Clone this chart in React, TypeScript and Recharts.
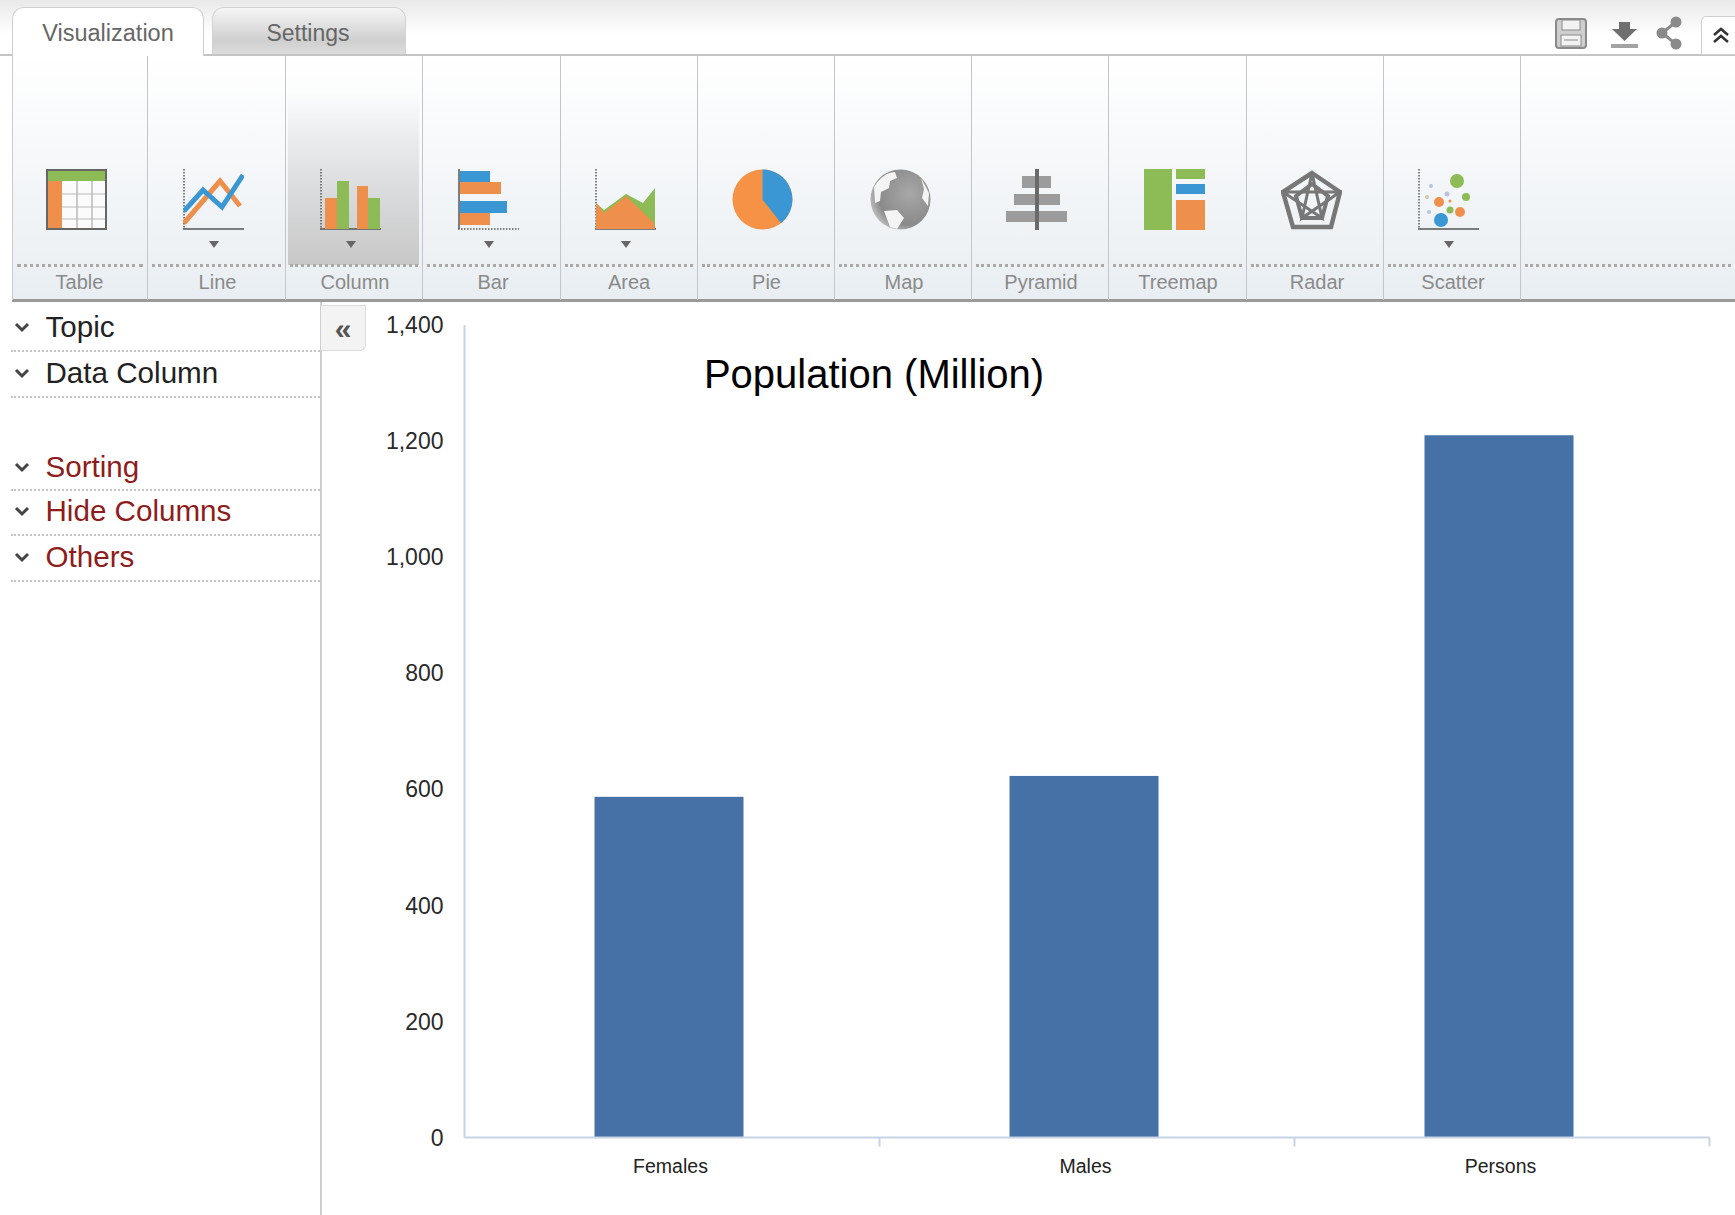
import React from 'react';
import { BarChart, Bar, XAxis, YAxis } from 'recharts';

const FONT = '"Liberation Sans", Arial, sans-serif';

// chart values
const categories = ['Females', 'Males', 'Persons'];
const populationMillions = [587, 623, 1210];
const yTicks = [0, 200, 400, 600, 800, 1000, 1200, 1400];

const toolLabels = ['Table', 'Line', 'Column', 'Bar', 'Area', 'Pie', 'Map', 'Pyramid', 'Treemap', 'Radar', 'Scatter'];
const toolCentres = [79.5, 217.5, 355, 493, 629, 766.5, 904, 1041, 1178, 1317, 1453];
const toolIconLefts = [46, 183, 320, 458, 595, 732, 870, 1006, 1144, 1281, 1418];
const toolSeparators = [147, 285, 422, 559.5, 696.5, 833.5, 971, 1108, 1245.5, 1383, 1520];
const toolsWithArrow = ['Line', 'Column', 'Bar', 'Area', 'Scatter'];

const sidebarItems = [
  { label: 'Topic', y: 327, rule: 350, color: '#222' },
  { label: 'Data Column', y: 373, rule: 396, color: '#222' },
  { label: 'Sorting', y: 467, rule: 489, color: '#8f1c1c' },
  { label: 'Hide Columns', y: 511, rule: 534, color: '#8f1c1c' },
  { label: 'Others', y: 557, rule: 580, color: '#8f1c1c' },
];

const data = categories.map((name, i) => ({ name, population: populationMillions[i] }));

const AXIS = '#c6d4e6';
const PLOT_LEFT = 464.5;
const PLOT_RIGHT = 1709.5;
const PLOT_TOP = 325;
const PLOT_BOTTOM = 1137.5;
const BAND = (PLOT_RIGHT - PLOT_LEFT) / categories.length;

const ORANGE = '#ef8f4c';
const GREEN = '#8dbb55';
const BLUE = '#3a97d4';
const GREY = '#8a8a8a';

function CategoryTick({ x, y, payload }: any) {
  return (
    <g>
      <line x1={x + BAND / 2} x2={x + BAND / 2} y1={y} y2={y + 9} stroke={AXIS} strokeWidth={2} />
      <text x={x - 1.5} y={y + 35} textAnchor="middle" fontSize={19.5} fontFamily={FONT} fill="#222">
        {payload.value}
      </text>
    </g>
  );
}

// bars sit a few pixels left of the band centre in the original
function ShiftedBar({ x, y, width, height, fill }: any) {
  return <rect x={x - 3} y={y} width={width} height={height} fill={fill} />;
}

function Axes({ dottedY = true }: { dottedY?: boolean }) {
  return (
    <g>
      <line x1={1} x2={1} y1={0} y2={60} stroke="#555" strokeWidth={1.5} strokeDasharray={dottedY ? '1.5 1.5' : undefined} />
      <line x1={0} x2={61} y1={60} y2={60} stroke="#555" strokeWidth={1.5} strokeDasharray={dottedY ? undefined : '1.5 1.5'} />
    </g>
  );
}

function ToolIcon({ name }: { name: string }) {
  switch (name) {
    case 'Table':
      return (
        <g>
          <rect x={1} y={1} width={59} height={59} fill="#fbfbfb" />
          <rect x={1} y={1} width={59} height={11} fill={GREEN} />
          <rect x={1} y={12} width={15} height={48} fill={ORANGE} />
          {[31, 46].map((x) => <line key={x} x1={x} x2={x} y1={12} y2={60} stroke="#999" />)}
          {[25, 38, 50].map((y) => <line key={y} x1={16} x2={60} y1={y} y2={y} stroke="#bbb" />)}
          <rect x={1} y={1} width={59} height={59} fill="none" stroke="#666" strokeWidth={2} />
        </g>
      );
    case 'Line':
      return (
        <g>
          <Axes />
          <polyline points="1,54 37,12 57,37" fill="none" stroke={ORANGE} strokeWidth={5} />
          <polyline points="1,42 20,21 39,38 60,6" fill="none" stroke={BLUE} strokeWidth={5} />
        </g>
      );
    case 'Column':
      return (
        <g>
          <Axes />
          <rect x={5} y={29} width={12} height={31} fill={ORANGE} />
          <rect x={17} y={12} width={12} height={48} fill={GREEN} />
          <rect x={37} y={17} width={11} height={43} fill={ORANGE} />
          <rect x={48} y={29} width={12} height={31} fill={GREEN} />
        </g>
      );
    case 'Bar':
      return (
        <g>
          <Axes dottedY={false} />
          <rect x={2} y={2} width={30} height={11} fill={BLUE} />
          <rect x={2} y={13} width={41} height={12} fill={ORANGE} />
          <rect x={2} y={32} width={47} height={12} fill={BLUE} />
          <rect x={2} y={44} width={30} height={12} fill={ORANGE} />
        </g>
      );
    case 'Area':
      return (
        <g>
          <Axes />
          <polygon points="1,34 9,41 31,25 48,34 60,19 60,60 1,60" fill={GREEN} />
          <polygon points="1,34 9,44 31,27 59,54 60,60 1,60" fill={ORANGE} />
        </g>
      );
    case 'Pie':
      return (
        <g>
          <circle cx={30.5} cy={30.5} r={30} fill="#f59245" />
          <path d="M30.5 30.5 L30.5 0.5 A30 30 0 0 1 49 54 Z" fill={BLUE} />
        </g>
      );
    case 'Map':
      return (
        <g>
          <defs>
            <radialGradient id="globe" cx="0.65" cy="0.4" r="0.7">
              <stop offset="0" stopColor="#a8a8a8" />
              <stop offset="0.75" stopColor="#8a8a8a" />
              <stop offset="1" stopColor="#c4c4c4" />
            </radialGradient>
          </defs>
          <circle cx={30.5} cy={30.5} r={30} fill="url(#globe)" />
          <path d="M4 18 C10 8 18 3 25 3 L27 9 L20 12 L19 19 L11 23 L10 32 L5 34 Z" fill="#f4f4f4" />
          <path d="M14 42 L27 41 L34 49 L27 60 L20 58 Z" fill="#f4f4f4" />
          <path d="M51 9 L59 24 L58 37 L52 29 L54 20 Z" fill="#f4f4f4" />
        </g>
      );
    case 'Pyramid':
      return (
        <g>
          <rect x={16} y={7} width={29} height={12} fill="#9c9c9c" />
          <rect x={8} y={25} width={46} height={11} fill="#9c9c9c" />
          <rect x={0} y={42} width={61} height={11} fill="#9c9c9c" />
          <rect x={29} y={0} width={4} height={61} fill="#6a6a6a" />
        </g>
      );
    case 'Treemap':
      return (
        <g>
          <rect x={0} y={0} width={28} height={61} fill={GREEN} />
          <rect x={32} y={0} width={29} height={10} fill={GREEN} />
          <rect x={32} y={15} width={29} height={10} fill={BLUE} />
          <rect x={32} y={31} width={29} height={30} fill={ORANGE} />
        </g>
      );
    case 'Radar':
      return (
        <g fill="none" stroke="#777" strokeWidth={4.5}>
          <polygon points="31,4 59,23 50,58 12,58 2,23" />
          <polygon points="31,15 47,27 41,49 21,49 15,27" strokeWidth={4} />
          <polyline points="31,4 41,49 2,23 59,23 21,49 31,4" strokeWidth={3} />
        </g>
      );
    case 'Scatter':
      return (
        <g>
          <Axes />
          <circle cx={39} cy={12} r={7} fill={GREEN} />
          <circle cx={13} cy={17} r={2} fill="#b9c4dc" />
          <circle cx={29} cy={25} r={2.5} fill="#b9c4dc" />
          <circle cx={48} cy={28} r={4} fill={GREEN} />
          <circle cx={9} cy={28} r={2} fill="#d8c4a8" />
          <circle cx={21} cy={33} r={5} fill={ORANGE} />
          <circle cx={32} cy={32} r={1.5} fill={ORANGE} />
          <circle cx={32} cy={41} r={3.5} fill={GREEN} />
          <circle cx={42} cy={43} r={5} fill={ORANGE} />
          <circle cx={11} cy={43} r={2} fill="#b9c4dc" />
          <circle cx={23} cy={51} r={7} fill={BLUE} />
        </g>
      );
    default:
      return null;
  }
}

const abs = (left: number, top: number, width: number, height: number): React.CSSProperties => ({
  position: 'absolute',
  left,
  top,
  width,
  height,
});

function Toolbar() {
  const cellLefts = [12, ...toolSeparators];
  return (
    <div>
      <div style={{ ...abs(0, 0, 1735, 54), background: 'linear-gradient(#e9e9e9, #fff 65%)' }} />
      <div style={{ ...abs(12, 55, 1723, 245), background: 'linear-gradient(#fff, #e9eef2)' }} />
      <div style={{ ...abs(288, 55, 131, 210), background: 'linear-gradient(rgba(200,200,200,0) 18%, #c8c8c8)' }} />
      <div style={{ ...abs(0, 54, 1735, 1.5), background: '#c4c4c4' }} />
      <div style={{ ...abs(12, 299, 1723, 3), background: '#9a9a9a' }} />
      <div style={{ ...abs(12, 55, 1, 245), background: '#c8ccd0' }} />

      <div
        style={{
          ...abs(12, 7, 192, 49),
          boxSizing: 'border-box',
          border: '1px solid #cfcfcf',
          borderBottom: 'none',
          borderRadius: '12px 12px 0 0',
          background: '#fff',
          color: '#666',
          fontSize: 23.5,
          textAlign: 'center',
          lineHeight: '50px',
        }}
      >
        Visualization
      </div>
      <div
        style={{
          ...abs(212, 7, 194, 47),
          boxSizing: 'border-box',
          border: '1px solid #d2d2d2',
          borderBottom: 'none',
          borderRadius: '12px 12px 0 0',
          background: 'linear-gradient(#f6f6f6, #cfcfcf 70%, #dcdcdc)',
          color: '#666',
          fontSize: 23,
          textAlign: 'center',
          lineHeight: '50px',
          paddingRight: 2,
        }}
      >
        Settings
      </div>

      {toolSeparators.map((x) => (
        <div key={x} style={{ ...abs(x, 56, 1, 244), background: '#c2c6ca' }} />
      ))}
      {cellLefts.map((x, i) => {
        const right = i + 1 < cellLefts.length ? cellLefts[i + 1] : 1735;
        return (
          <div
            key={x}
            style={{ ...abs(x + 5, 264, right - x - 9, 0), borderTop: '3px dotted #a9a9a9' }}
          />
        );
      })}

      {toolLabels.map((label, i) => (
        <React.Fragment key={label}>
          <svg
            width={61}
            height={61}
            viewBox="0 0 61 61"
            style={{ position: 'absolute', left: toolIconLefts[i], top: 169, filter: 'blur(0.6px)' }}
          >
            <ToolIcon name={label} />
          </svg>
          {toolsWithArrow.includes(label) && (
            <svg width={10} height={7} style={{ position: 'absolute', left: toolIconLefts[i] + 26, top: 241 }}>
              <polygon points="0,0 10,0 5,7" fill="#666" />
            </svg>
          )}
          <div
            style={{
              position: 'absolute',
              left: toolCentres[i] - 70,
              width: 140,
              top: 270,
              height: 24,
              lineHeight: '24px',
              textAlign: 'center',
              fontSize: 20,
              color: '#8a8a8a',
            }}
          >
            {label}
          </div>
        </React.Fragment>
      ))}

      <svg width={34} height={34} style={{ position: 'absolute', left: 1554, top: 17 }}>
        <rect x={2} y={2} width={30} height={29} rx={3} fill="#cfcfcf" stroke={GREY} strokeWidth={2} />
        <rect x={8} y={3} width={18} height={10} fill="#f2f2f2" stroke={GREY} />
        <rect x={7} y={18} width={20} height={11} fill="#f2f2f2" stroke={GREY} />
        <line x1={10} x2={24} y1={23} y2={23} stroke={GREY} />
      </svg>
      <svg width={30} height={30} style={{ position: 'absolute', left: 1610, top: 21 }}>
        <polygon points="9,1 20,1 20,8 27,8 14.5,20 2,8 9,8" fill="#6f6f6f" />
        <rect x={1} y={23} width={27} height={4} fill="#a3a3a3" />
      </svg>
      <svg width={28} height={34} style={{ position: 'absolute', left: 1655, top: 16 }}>
        <polyline points="21,6 7,17 21,28" fill="none" stroke={GREY} strokeWidth={3} />
        <circle cx={21} cy={6} r={5.5} fill={GREY} />
        <circle cx={7} cy={17} r={5.5} fill={GREY} />
        <circle cx={21} cy={28} r={5.5} fill={GREY} />
      </svg>
      <div
        style={{
          ...abs(1701, 16, 40, 39),
          boxSizing: 'border-box',
          border: '1px solid #cfcfcf',
          borderRadius: '5px 0 0 0',
          background: '#fff',
        }}
      />
      <svg width={20} height={20} style={{ position: 'absolute', left: 1711, top: 26 }}>
        <polyline points="3,9 10,3 17,9" fill="none" stroke="#333" strokeWidth={2.5} />
        <polyline points="3,16 10,10 17,16" fill="none" stroke="#333" strokeWidth={2.5} />
      </svg>
    </div>
  );
}

function Sidebar() {
  return (
    <div>
      <div style={{ ...abs(320, 302, 2, 913), background: '#cfcfcf' }} />
      <div
        style={{
          ...abs(321, 305, 45, 46),
          boxSizing: 'border-box',
          border: '1px solid #dcdcdc',
          borderLeft: 'none',
          borderRadius: '0 0 6px 0',
          background: '#f3f3f3',
          color: '#555',
          fontSize: 30,
          fontWeight: 'bold',
          textAlign: 'center',
          lineHeight: '46px',
        }}
      >
        «
      </div>
      {sidebarItems.map((item) => (
        <React.Fragment key={item.label}>
          <svg width={16} height={12} style={{ position: 'absolute', left: 14, top: item.y - 6 }}>
            <polyline points="2,3 8,9 14,3" fill="none" stroke="#444" strokeWidth={3} />
          </svg>
          <div
            style={{
              position: 'absolute',
              left: 45.5,
              top: item.y - 20,
              height: 40,
              lineHeight: '40px',
              fontSize: 29.6,
              color: item.color,
              whiteSpace: 'nowrap',
            }}
          >
            {item.label}
          </div>
          <div style={{ ...abs(11, item.rule, 309, 0), borderTop: '2px dotted #c4c4c4' }} />
        </React.Fragment>
      ))}
    </div>
  );
}

export default function App() {
  return (
    <div style={{ ...abs(0, 0, 1735, 1215), overflow: 'hidden', background: '#fff', fontFamily: FONT }}>
      <div style={{ position: 'absolute', left: 0, top: 0 }}>
        <BarChart
          width={1735}
          height={1215}
          data={data}
          margin={{ top: PLOT_TOP, left: PLOT_LEFT - 70, right: 1735 - PLOT_RIGHT, bottom: 1215 - PLOT_BOTTOM - 50 }}
        >
          <XAxis
            dataKey="name"
            height={50}
            axisLine={{ stroke: AXIS, strokeWidth: 2 }}
            tickLine={false}
            tickSize={0}
            tickMargin={0}
            tick={<CategoryTick />}
            interval={0}
          />
          <YAxis
            width={70}
            domain={[0, 1400]}
            ticks={yTicks}
            interval={0}
            tickSize={0}
            tickMargin={21}
            tickLine={false}
            axisLine={{ stroke: AXIS, strokeWidth: 2 }}
            tick={{ fontSize: 23, fontFamily: FONT, fill: '#2a2a2a' }}
            tickFormatter={(v: number) => v.toLocaleString('en-US')}
          />
          <Bar dataKey="population" fill="#4571a6" barSize={149} isAnimationActive={false} shape={<ShiftedBar />} />
          <text x={874} y={388} textAnchor="middle" fontSize={40} fontFamily={FONT} fill="#000">
            Population (Million)
          </text>
        </BarChart>
      </div>
      <Toolbar />
      <Sidebar />
    </div>
  );
}
